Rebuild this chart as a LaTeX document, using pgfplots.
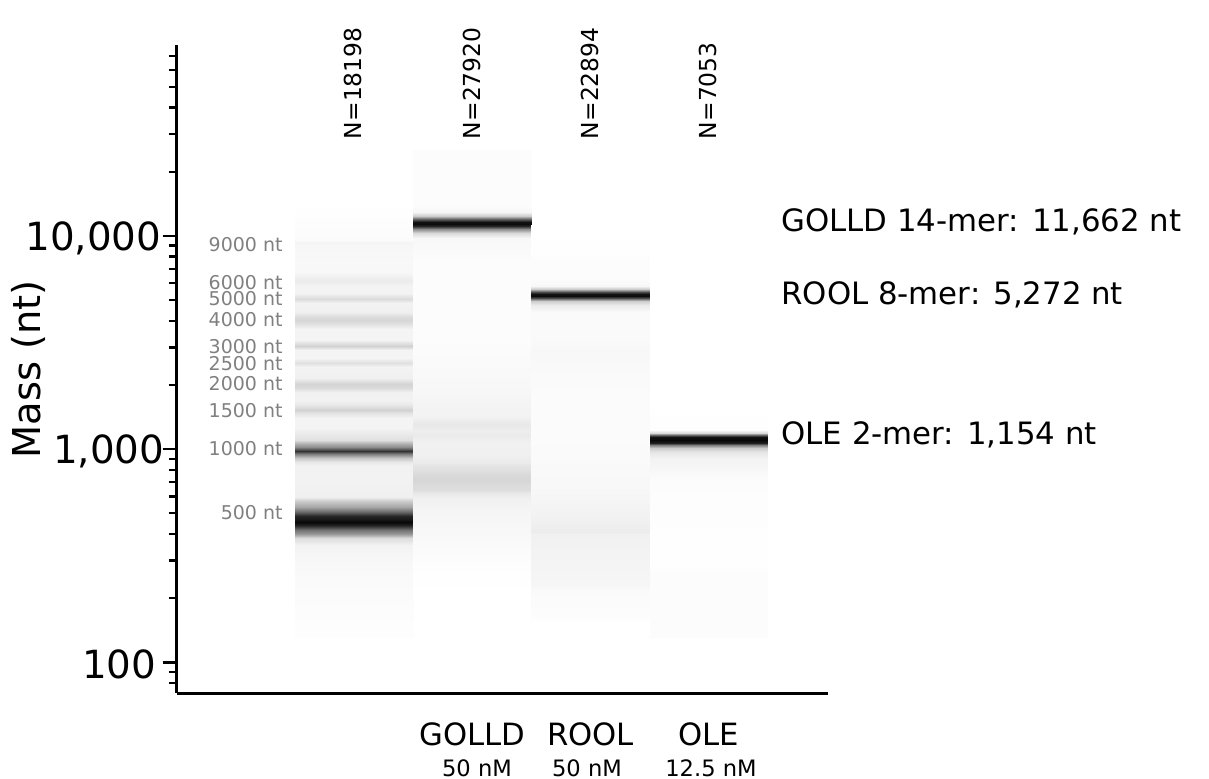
\documentclass[border=0pt]{standalone}
\usepackage{pgfplots}
\pgfplotsset{compat=1.18}
\usepackage{fontspec}
\setmainfont{DejaVu Sans}
\newcommand{\fs}[1]{\fontsize{#1}{#1}\selectfont}
\pgfplotsset{gel/.style={surf,shader=interp,mesh/cols=2,point meta=explicit,forget plot}}
\begin{document}
\begin{tikzpicture}
\path[use as bounding box] (0,0) rectangle (604.5pt,389.5pt);
\begin{axis}[
  at={(88.3pt,42.8pt)},anchor=south west,
  scale only axis,width=325.7pt,height=324.2pt,
  ymode=log,xmin=0,xmax=5.508,ymin=71.5,ymax=78600,
  clip=false,
  axis x line*=bottom,axis y line*=left,
  axis line style={-,line width=1.3pt},
  tick align=outside,
  xtick={2.5,3.5,4.5},xticklabels={GOLLD,ROOL,OLE},
  xtick style={draw=none},
  xticklabel style={font=\fs{15.35},anchor=center,yshift=-13.5pt},
  ytick={100,1000,10000},yticklabels={100\kern2.5pt,{1,000\kern-1.5pt},{10,000}},
  minor ytick={80,90,200,300,400,500,600,700,800,900,2000,3000,4000,5000,6000,7000,8000,9000,20000,30000,40000,50000,60000,70000},
  major tick length=7pt,minor tick length=4pt,
  ytick style={line width=1.2pt,black},
  minor tick style={line width=1pt,black},
  yticklabel style={font=\fs{19.4},inner sep=0pt,xshift=-0.5pt,yshift=-1pt},
  ylabel={Mass (nt)},ylabel style={font=\fs{19.2},at={(axis description cs:0,0.5)},anchor=south,yshift=62pt},
  colormap={gel}{gray(0cm)=(1); gray(1cm)=(0)},
  point meta min=0,point meta max=1,
]
% lane 1
\addplot[gel] coordinates {
(1,13980)[0] (2,13980)[0]
(1,12550)[.005] (2,12550)[.005]
(1,10440)[.012] (2,10440)[.012]
(1,9580)[.015] (2,9580)[.015]
(1,9370)[.04] (2,9370)[.04]
(1,8600)[.03] (2,8600)[.03]
(1,7550)[.025] (2,7550)[.025]
(1,6780)[.03] (2,6780)[.03]
(1,6150)[.08] (2,6150)[.08]
(1,5890)[.05] (2,5890)[.05]
(1,5400)[.045] (2,5400)[.045]
(1,5060)[.14] (2,5060)[.14]
(1,4850)[.05] (2,4850)[.05]
(1,4400)[.06] (2,4400)[.06]
(1,4170)[.14] (2,4170)[.14]
(1,4030)[.16] (2,4030)[.16]
(1,3900)[.13] (2,3900)[.13]
(1,3660)[.045] (2,3660)[.045]
(1,3250)[.045] (2,3250)[.045]
(1,3040)[.18] (2,3040)[.18]
(1,2920)[.045] (2,2920)[.045]
(1,2670)[.045] (2,2670)[.045]
(1,2530)[.12] (2,2530)[.12]
(1,2430)[.045] (2,2430)[.045]
(1,2150)[.06] (2,2150)[.06]
(1,2020)[.17] (2,2020)[.17]
(1,1930)[.14] (2,1930)[.14]
(1,1850)[.06] (2,1850)[.06]
(1,1700)[.05] (2,1700)[.05]
(1,1610)[.09] (2,1610)[.09]
(1,1520)[.18] (2,1520)[.18]
(1,1480)[.11] (2,1480)[.11]
(1,1400)[.045] (2,1400)[.045]
(1,1255)[.045] (2,1255)[.045]
(1,1100)[.12] (2,1100)[.12]
(1,1067)[.28] (2,1067)[.28]
(1,1022)[.45] (2,1022)[.45]
(1,978)[.8] (2,978)[.8]
(1,947)[.5] (2,947)[.5]
(1,907)[.22] (2,907)[.22]
(1,869)[.09] (2,869)[.09]
(1,832)[.05] (2,832)[.05]
(1,715)[.05] (2,715)[.05]
(1,595)[.06] (2,595)[.06]
(1,570)[.2] (2,570)[.2]
(1,534)[.35] (2,534)[.35]
(1,506)[.6] (2,506)[.6]
(1,485)[.85] (2,485)[.85]
(1,464)[.92] (2,464)[.92]
(1,454)[.97] (2,454)[.97]
(1,440)[.88] (2,440)[.88]
(1,417)[.55] (2,417)[.55]
(1,399)[.4] (2,399)[.4]
(1,382)[.14] (2,382)[.14]
(1,354)[.05] (2,354)[.05]
(1,301)[.03] (2,301)[.03]
(1,243)[.02] (2,243)[.02]
(1,175)[.012] (2,175)[.012]
(1,132)[.006] (2,132)[.006]
(1,131)[0] (2,131)[0]
};
% lane 2
\addplot[gel] coordinates {
(2,25340)[.012] (3,25340)[.012]
(2,13980)[.012] (3,13980)[.012]
(2,12960)[.03] (3,12960)[.03]
(2,12410)[.2] (3,12410)[.2]
(2,12020)[.6] (3,12020)[.6]
(2,11630)[.93] (3,11630)[.93]
(2,11380)[.95] (3,11380)[.95]
(2,11140)[.85] (3,11140)[.85]
(2,10790)[.45] (3,10790)[.45]
(2,10330)[.15] (3,10330)[.15]
(2,9790)[.03] (3,9790)[.03]
(2,7720)[.012] (3,7720)[.012]
(2,3250)[.012] (3,3250)[.012]
(2,1890)[.03] (3,1890)[.03]
(2,1700)[.04] (3,1700)[.04]
(2,1410)[.05] (3,1410)[.05]
(2,1370)[.07] (3,1370)[.07]
(2,1296)[.09] (3,1296)[.09]
(2,1228)[.07] (3,1228)[.07]
(2,1163)[.08] (3,1163)[.08]
(2,1067)[.055] (3,1067)[.055]
(2,937)[.06] (3,937)[.06]
(2,860)[.08] (3,860)[.08]
(2,841)[.1] (3,841)[.1]
(2,797)[.12] (3,797)[.12]
(2,755)[.15] (3,755)[.15]
(2,715)[.16] (3,715)[.16]
(2,678)[.14] (3,678)[.14]
(2,642)[.13] (3,642)[.13]
(2,622)[.09] (3,622)[.09]
(2,589)[.06] (3,589)[.06]
(2,517)[.04] (3,517)[.04]
(2,395)[.025] (3,395)[.025]
(2,285)[.008] (3,285)[.008]
(2,243)[.003] (3,243)[.003]
(2,196)[0] (3,196)[0]
};
% lane 3
\addplot[gel] coordinates {
(3,11260)[0] (4,11260)[0]
(3,8140)[.004] (4,8140)[.004]
(3,7880)[.01] (4,7880)[.01]
(3,6210)[.012] (4,6210)[.012]
(3,5820)[.03] (4,5820)[.03]
(3,5640)[.2] (4,5640)[.2]
(3,5460)[.7] (4,5460)[.7]
(3,5340)[.93] (4,5340)[.93]
(3,5230)[.95] (4,5230)[.95]
(3,5120)[.7] (4,5120)[.7]
(3,4950)[.2] (4,4950)[.2]
(3,4740)[.08] (4,4740)[.08]
(3,4400)[.02] (4,4400)[.02]
(3,3250)[.02] (4,3250)[.02]
(3,2920)[.03] (4,2920)[.03]
(3,2230)[.02] (4,2230)[.02]
(3,1700)[.015] (4,1700)[.015]
(3,1228)[.015] (4,1228)[.015]
(3,888)[.02] (4,888)[.02]
(3,642)[.03] (4,642)[.03]
(3,490)[.05] (4,490)[.05]
(3,417)[.07] (4,417)[.07]
(3,408)[.075] (4,408)[.075]
(3,399)[.055] (4,399)[.055]
(3,301)[.045] (4,301)[.045]
(3,230)[.035] (4,230)[.035]
(3,215)[.02] (4,215)[.02]
(3,175)[.012] (4,175)[.012]
(3,157)[.005] (4,157)[.005]
(3,154)[0] (4,154)[0]
};
% lane 4
\addplot[gel] coordinates {
(4,1610)[0] (5,1610)[0]
(4,1228)[.005] (5,1228)[.005]
(4,1189)[.15] (5,1189)[.15]
(4,1163)[.6] (5,1163)[.6]
(4,1138)[.93] (5,1138)[.93]
(4,1100)[.97] (5,1100)[.97]
(4,1067)[.88] (5,1067)[.88]
(4,1044)[.5] (5,1044)[.5]
(4,1011)[.2] (5,1011)[.2]
(4,968)[.1] (5,968)[.1]
(4,907)[.05] (5,907)[.05]
(4,797)[.03] (5,797)[.03]
(4,715)[.012] (5,715)[.012]
(4,576)[.008] (5,576)[.008]
(4,374)[.005] (5,374)[.005]
(4,270)[.006] (5,270)[.006]
(4,264)[.012] (5,264)[.012]
(4,175)[.012] (5,175)[.012]
(4,132)[.01] (5,132)[.01]
(4,131)[0] (5,131)[0]
};
\end{axis}
\begin{scope}[x=0.5pt,y=-0.5pt,yshift=389.5pt,every node/.style={inner sep=0pt}]
\foreach \y/\t in {245/9000,283/6000,299/5000,320/4000,347/3000,364/2500,384/2000,411/1500,449/1000,513/500}
  \node[anchor=east,text=black!50,font=\fs{9.5}] at (283,\y) {\t\ nt};
\foreach \x/\t in {353/18198,472/27920,590/22894,708/7053}
  \node[anchor=west,rotate=90,font=\fs{11.7}] at (\x,139.5) {N=\t};
\node[anchor=west,font=\fs{15.4}] at (781,222) {GOLLD 14-mer: 11,662 nt};
\node[anchor=west,font=\fs{15.4}] at (781,295) {ROOL 8-mer: 5,272 nt};
\node[anchor=west,font=\fs{15.4}] at (781,435) {OLE 2-mer: 1,154 nt};
\node[font=\fs{11.3}] at (477,768) {50 nM};
\node[font=\fs{11.3}] at (587,768) {50 nM};
\node[font=\fs{11.3}] at (711,768) {12.5 nM};
\end{scope}
\end{tikzpicture}
\end{document}
